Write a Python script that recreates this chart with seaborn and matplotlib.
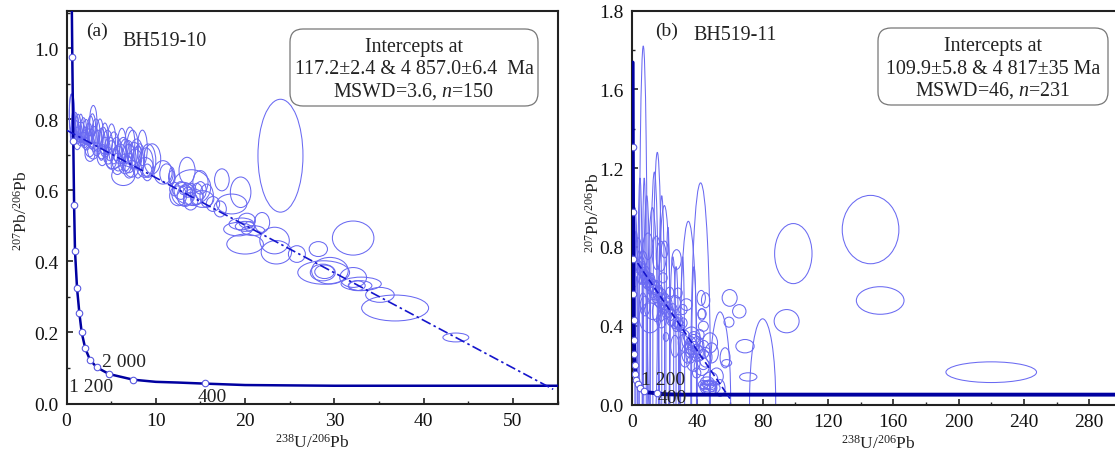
import seaborn as sns
import matplotlib.pyplot as plt
from matplotlib.patches import Ellipse, FancyBboxPatch

# concordia curve, shared by both panels
conc_x = [0.4, 0.5, 0.6, 0.65, 0.76, 0.85, 0.95, 1.18, 1.44, 1.7, 2.1, 2.63, 3.38, 4.76, 7.48, 10, 12.5, 15.5, 20, 30, 296]
conc_y = [1.736, 1.305, 1.105, 0.975, 0.74, 0.56, 0.43, 0.325, 0.255, 0.2, 0.155, 0.123, 0.102, 0.083, 0.067, 0.061, 0.059, 0.056, 0.052, 0.05, 0.05]
age_x = [0.5, 0.65, 0.76, 0.85, 0.95, 1.18, 1.44, 1.7, 2.1, 2.63, 3.38, 4.76, 7.48, 15.5]
age_y = [1.305, 0.975, 0.74, 0.56, 0.43, 0.325, 0.255, 0.2, 0.155, 0.123, 0.102, 0.083, 0.067, 0.057]

# discordia ends
disc_a_x = [0, 54.5]
disc_a_y = [0.77, 0.04]
disc_b_x = [0, 60]
disc_b_y = [0.76, 0.03]

# error ellipses panel a: centre x, centre y, width, height
a_x = [23.96, 32.1, 28.2, 36.8, 43.6, 13.5, 17.4, 19.5, 14.0, 15.0, 13.1, 14.2, 12.5, 15.2, 15.7, 17.2, 16.4, 18.5, 13.5, 13.1, 13.6, 12.1, 11.8,
       20.2, 21.9, 19.6, 20.0, 20.5, 19.2, 20.9, 20.0, 23.3, 23.5, 25.8, 28.8, 29.5, 28.9, 28.7, 32.1, 32.9, 33.0, 32.5, 35.1,
       0.54, 0.61, 3.0, 2.9, 1.06, 1.43, 1.73, 1.21, 2.07, 2.44, 1.88, 2.81, 3.3, 3.75, 4.12, 3.0, 5.05, 4.87, 4.31, 5.6, 6.36, 7.1, 6.0, 6.9,
       7.85, 7.67, 8.2, 5.24, 6.36, 7.3, 9.15, 9.6, 8.8, 6.55, 9.05, 11.2, 10.8, 11.8, 0.69, 0.95, 1.58, 2.25, 2.63, 3.37, 3.93, 4.68,
       0.8, 1.0, 1.3, 1.6, 1.9, 2.2, 2.5, 2.7, 3.1, 3.5, 3.9, 4.3, 4.6, 5.0, 5.3, 5.8, 6.2, 6.6, 7.0, 7.4, 7.6, 8.0, 8.5, 8.9, 7.0, 5.7, 1.2, 2.0, 2.6, 4.0,
       12.8, 13.3, 14.6, 13.9, 15.0, 14.0]
a_y = [0.698, 0.466, 0.435, 0.269, 0.186, 0.656, 0.63, 0.595, 0.609, 0.623, 0.59, 0.581, 0.585, 0.576, 0.585, 0.548, 0.562, 0.562, 0.604, 0.6, 0.595, 0.604, 0.642,
       0.515, 0.51, 0.506, 0.499, 0.499, 0.491, 0.487, 0.449, 0.459, 0.426, 0.421, 0.369, 0.374, 0.371, 0.369, 0.355, 0.332, 0.337, 0.332, 0.306,
       0.82, 0.811, 0.797, 0.783, 0.769, 0.764, 0.764, 0.755, 0.755, 0.75, 0.745, 0.745, 0.764, 0.759, 0.741, 0.712, 0.745, 0.717, 0.722, 0.717, 0.712, 0.736, 0.703, 0.708,
       0.712, 0.689, 0.694, 0.689, 0.642, 0.661, 0.684, 0.689, 0.665, 0.675, 0.651, 0.647, 0.651, 0.637, 0.759, 0.75, 0.74, 0.731, 0.703, 0.717, 0.708, 0.698,
       0.78, 0.78, 0.78, 0.775, 0.77, 0.765, 0.76, 0.77, 0.745, 0.74, 0.73, 0.75, 0.735, 0.70, 0.72, 0.69, 0.725, 0.70, 0.69, 0.72, 0.70, 0.68, 0.72, 0.68, 0.67, 0.675, 0.74, 0.745, 0.725, 0.70,
       0.60, 0.585, 0.59, 0.57, 0.60, 0.60]
a_w = [5.04, 4.65, 2.05, 7.5, 2.9, 1.8, 1.64, 2.3, 4.3, 1.7, 2.6, 2.2, 1.9, 2.6, 1.5, 1.4, 1.5, 3.4, 1.5, 0.9, 1.1, 1.1, 0.6,
       1.9, 1.7, 2.8, 2.2, 1.1, 3.2, 2.6, 4.1, 3.3, 3.4, 1.9, 5.8, 4.1, 2.2, 2.8, 3.0, 2.6, 4.5, 1.9, 3.2,
       0.45, 0.6, 0.8, 0.7, 0.67, 0.6, 0.67, 0.8, 0.67, 0.75, 0.97, 0.82, 0.9, 0.75, 0.9, 1.27, 0.9, 1.27, 1.1, 1.1, 1.34, 1.1, 1.5, 1.27,
       1.27, 1.5, 1.1, 1.87, 2.6, 1.5, 1.7, 1.9, 1.87, 1.5, 1.1, 1.5, 2.05, 0.75, 0.52, 0.6, 0.67, 0.82, 1.12, 0.9, 0.97, 1.12,
       0.5, 0.6, 0.6, 0.6, 0.7, 0.7, 0.8, 0.7, 1.0, 1.1, 0.9, 0.8, 1.1, 1.4, 1.2, 1.5, 1.0, 1.4, 1.6, 1.3, 1.6, 1.3, 1.1, 1.6, 1.4, 1.4, 0.9, 0.9, 1.2, 1.2,
       1.5, 1.8, 1.4, 1.6, 1.3, 1.0]
a_h = [0.318, 0.096, 0.042, 0.073, 0.025, 0.075, 0.062, 0.086, 0.099, 0.066, 0.066, 0.047, 0.056, 0.047, 0.066, 0.045, 0.042, 0.056, 0.028, 0.023, 0.028, 0.038, 0.047,
       0.042, 0.056, 0.033, 0.028, 0.028, 0.038, 0.028, 0.056, 0.075, 0.066, 0.047, 0.066, 0.075, 0.038, 0.047, 0.056, 0.028, 0.038, 0.028, 0.042,
       0.103, 0.122, 0.085, 0.066, 0.056, 0.056, 0.056, 0.047, 0.047, 0.047, 0.038, 0.056, 0.075, 0.085, 0.075, 0.047, 0.085, 0.066, 0.056, 0.066, 0.075, 0.085, 0.056, 0.066,
       0.066, 0.056, 0.075, 0.056, 0.056, 0.047, 0.094, 0.085, 0.056, 0.056, 0.047, 0.056, 0.066, 0.038, 0.047, 0.038, 0.028, 0.033, 0.042, 0.038, 0.038, 0.047,
       0.09, 0.08, 0.07, 0.08, 0.07, 0.07, 0.06, 0.08, 0.07, 0.06, 0.09, 0.08, 0.07, 0.08, 0.09, 0.07, 0.10, 0.09, 0.08, 0.10, 0.07, 0.09, 0.10, 0.08, 0.07, 0.06, 0.05, 0.05, 0.06, 0.06,
       0.05, 0.06, 0.06, 0.05, 0.05, 0.04]

# error ellipses panel b
b_x = [146.1, 152, 220, 98.8, 94.7, 69.2, 71.2, 27.3, 80, 53.9, 42, 34.5, 6.9, 15.5, 13.7, 4.9, 1.2, 9, 18.2, 19.8, 12.5, 25, 3,
       9.8, 17.9, 14.9, 20, 3.7, 6.7, 3.7, 5.7, 7.75, 9.8, 11.8, 8.8, 10.8, 13.9, 6.7, 15.9, 18, 19, 28.2, 23.1, 20, 26.1, 33.3, 31.2, 22, 12.9, 6.7, 11, 18, 24.1, 28.2, 31.2, 25.1, 18,
       42.4, 45.1, 42.9, 59.8, 59.4, 65.7,
       20.8, 26.3, 31.4, 36.5, 37.6, 41.6, 43.7, 42.7, 35.5, 39.6, 43.7, 47.8, 48.8, 37.6, 32.5, 39.6, 57, 58, 46.7, 46.7, 47.8, 43.7, 47.8, 53.9, 42.7, 51.8,
       1.5, 2.5, 4.5, 5, 6, 7, 8, 9, 10, 11, 12, 12.5, 13, 14.5, 15, 16.5, 17, 18.5, 19.5, 21, 22, 23.5, 24.5, 26, 27, 28.5, 30, 29, 30.5, 8, 15,
       36, 38, 40, 41, 44, 45, 36, 34, 38, 33, 46, 48, 45, 49, 48,
       7.5, 22, 27, 31, 38]
b_y = [0.888, 0.528, 0.164, 0.766, 0.423, 0.296, 0.14, 0.736, 0.02, 0.03, 0.1, 0.05, 0.2, 0.2, 0.2, 0.2, 0.3, 0.3, 0.3, 0.4, 0.4, 0.15, 0.1,
       0.803, 0.752, 0.77, 0.787, 0.787, 0.736, 0.702, 0.685, 0.651, 0.634, 0.609, 0.617, 0.643, 0.592, 0.634, 0.566, 0.55, 0.643, 0.566, 0.566, 0.524, 0.516, 0.507, 0.482, 0.482, 0.482, 0.524, 0.44, 0.431, 0.44, 0.423, 0.414, 0.482, 0.465,
       0.541, 0.529, 0.46, 0.541, 0.418, 0.473,
       0.343, 0.296, 0.313, 0.347, 0.313, 0.355, 0.397, 0.457, 0.279, 0.262, 0.228, 0.313, 0.262, 0.211, 0.228, 0.16, 0.237, 0.211, 0.093, 0.101, 0.084, 0.101, 0.076, 0.084, 0.194, 0.143,
       0.85, 0.78, 0.72, 0.66, 0.70, 0.68, 0.64, 0.66, 0.62, 0.60, 0.63, 0.58, 0.60, 0.56, 0.59, 0.53, 0.57, 0.52, 0.50, 0.47, 0.51, 0.46, 0.44, 0.42, 0.40, 0.41, 0.40, 0.39, 0.385, 0.50, 0.47,
       0.30, 0.28, 0.30, 0.26, 0.28, 0.24, 0.25, 0.26, 0.33, 0.33, 0.12, 0.10, 0.09, 0.085, 0.13,
       0.2, 0.2, 0.15, 0.1, 0.1]
b_w = [34.7, 29.2, 55.5, 22.9, 15.3, 11.2, 10.6, 5.7, 16, 13, 12, 11, 5, 5.5, 5, 3, 2.5, 4, 3.5, 7, 6, 4, 2.5,
       6.1, 6.1, 5.1, 4.1, 4.1, 5.1, 4.1, 5.1, 5.1, 5.1, 6.1, 4.1, 4.1, 6.1, 4.1, 6.1, 6.1, 5.1, 5.1, 5.1, 6.1, 7.1, 7.1, 5.1, 6.1, 10.2, 4.1, 13.3, 6.1, 6.1, 6.1, 5.1, 5.1, 4.1,
       5.1, 5.1, 5.1, 9.2, 6.1, 8.2,
       3.3, 5.1, 6.1, 10.2, 8.2, 5.1, 6.1, 4.5, 6.1, 8.2, 8.2, 9.2, 8.2, 8.2, 6.1, 5.1, 6.1, 6.1, 10.2, 7.1, 12.2, 6.1, 8.2, 6.1, 9.2, 8.2,
       2.5, 2, 3, 3, 3.5, 3.5, 4, 3.5, 4, 4, 4, 4.5, 4.5, 5, 4, 5, 4, 5, 5, 5, 5, 5, 5, 5, 4.5, 5, 4, 3, 3.5, 6, 5,
       7, 7, 8, 7, 7, 8, 6, 7, 8, 5, 8, 8, 6, 6, 9,
       2.5, 2.5, 3, 2.5, 3]
b_h = [0.347, 0.14, 0.105, 0.305, 0.118, 0.068, 0.042, 0.10, 0.83, 0.88, 2.05, 1.76, 3.24, 2.16, 1.96, 1.9, 1.48, 1.52, 1.52, 1.22, 1.2, 1.2, 1.1,
       0.135, 0.152, 0.169, 0.085, 0.118, 0.085, 0.068, 0.068, 0.068, 0.076, 0.068, 0.059, 0.051, 0.068, 0.051, 0.068, 0.076, 0.051, 0.051, 0.059, 0.085, 0.076, 0.059, 0.051, 0.076, 0.102, 0.085, 0.152, 0.085, 0.085, 0.068, 0.051, 0.059, 0.085,
       0.076, 0.076, 0.051, 0.085, 0.051, 0.068,
       0.044, 0.11, 0.085, 0.093, 0.085, 0.051, 0.051, 0.059, 0.085, 0.085, 0.102, 0.102, 0.102, 0.085, 0.076, 0.051, 0.102, 0.034, 0.059, 0.042, 0.068, 0.042, 0.051, 0.085, 0.093, 0.085,
       0.3, 0.2, 0.12, 0.1, 0.1, 0.09, 0.09, 0.08, 0.08, 0.08, 0.07, 0.08, 0.07, 0.09, 0.08, 0.08, 0.07, 0.08, 0.08, 0.07, 0.08, 0.07, 0.08, 0.07, 0.06, 0.06, 0.05, 0.04, 0.04, 0.1, 0.1,
       0.09, 0.08, 0.09, 0.08, 0.09, 0.1, 0.08, 0.1, 0.08, 0.09, 0.04, 0.05, 0.03, 0.04, 0.07,
       1.9, 1.4, 1.1, 1.3, 1.2]

a_xticks = [0, 10, 20, 30, 40, 50]
a_yticks = [0, 0.2, 0.4, 0.6, 0.8, 1.0]
a_ylabels = ['0.0', '0.2', '0.4', '0.6', '0.8', '1.0']
b_xticks = [0, 40, 80, 120, 160, 200, 240, 280]
b_yticks = [0, 0.4, 0.8, 1.2, 1.6, 2.0]
b_ylabels = ['0.0', '0.4', '0.8', '1.2', '1.6', '1.8']

sns.set_style('ticks')
plt.rcParams['font.family'] = ['Liberation Serif', 'DejaVu Sans']
plt.rcParams['mathtext.fontset'] = 'custom'
plt.rcParams['mathtext.rm'] = 'Liberation Serif'
plt.rcParams['mathtext.it'] = 'Liberation Serif:italic'
plt.rcParams['mathtext.default'] = 'regular'

W, H = 1115, 452
ELL = '#6a6af2'
DARK = '#0000a0'
TXT = '#222222'

fig = plt.figure(figsize=(W / 100, H / 100), dpi=100)
ax1 = fig.add_axes([66.5 / W, 1 - 404.5 / H, (558 - 66.5) / W, (404.5 - 12) / H])
ax2 = fig.add_axes([632 / W, 1 - 405.5 / H, (1115 - 632) / W, (405.5 - 11.5) / H])


def draw_panel(ax, ex, ey, ew, eh, dx, dy, line_w, dash):
    for x, y, w, h in zip(ex, ey, ew, eh):
        ax.add_patch(Ellipse((x, y), w, h, fill=False, ec=ELL, lw=0.75, zorder=2))
    sns.lineplot(x=conc_x, y=conc_y, sort=False, estimator=None, color=DARK, lw=line_w, ax=ax, zorder=3)
    sns.lineplot(x=dx, y=dy, sort=False, estimator=None, color='#1515cc', lw=1.2, ax=ax, zorder=3, linestyle=dash)
    sns.scatterplot(x=age_x, y=age_y, marker='o', s=22, color='white', edgecolor='#5a5ae0', linewidth=0.8, ax=ax, zorder=4)


def style_axes(ax, xticks, yticks, ylabels, xminor, yminor):
    ax.set_xticks(xticks)
    ax.set_yticks(yticks)
    ax.set_yticklabels(ylabels)
    ax.set_xticks(xminor, minor=True)
    ax.set_yticks(yminor, minor=True)
    ax.tick_params(which='major', direction='in', length=4, width=1.1, labelsize=14, colors='#111111', pad=6)
    ax.tick_params(which='minor', direction='in', length=2, width=1.0)
    for s in ax.spines.values():
        s.set_linewidth(1.5)
        s.set_color('#222222')


draw_panel(ax1, a_x, a_y, a_w, a_h, disc_a_x, disc_a_y, 1.8, (0, (6, 2, 1.5, 2)))
draw_panel(ax2, b_x, b_y, b_w, b_h, disc_b_x, disc_b_y, 2.8, (0, (4, 2)))

ax1.set_xlim(0, 55.04)
ax1.set_ylim(0, 1.1056)
ax2.set_xlim(0, 295.8)
ax2.set_ylim(0, 2.0)
style_axes(ax1, a_xticks, a_yticks, a_ylabels, [5, 15, 25, 35, 45, 55], [0.1, 0.3, 0.5, 0.7, 0.9, 1.1])
style_axes(ax2, b_xticks, b_yticks, b_ylabels, [20, 60, 100, 140, 180, 220, 260], [0.2, 0.6, 1.0, 1.4, 1.8])
ax2.spines['right'].set_visible(False)

for ax in (ax1, ax2):
    ax.set_xlabel('$^{238}$U/$^{206}$Pb', fontsize=12.5, color=TXT, labelpad=3)
    ax.set_ylabel('$^{207}$Pb/$^{206}$Pb', fontsize=12.5, color=TXT)
ax1.yaxis.set_label_coords(-0.072, 0.493)
ax2.yaxis.set_label_coords(-0.06, 0.49)
ax2.xaxis.label.set_x(0.509)


def ftext(px, py, s, size=14, **kw):
    fig.text(px / W, 1 - py / H, s, fontsize=size, color=TXT, ha='center', va='center', **kw)


ftext(97, 31, '(a)')
ftext(165, 41, 'BH519-10', 14.4)
ftext(667, 31, '(b)')
ftext(735, 36, 'BH519-11', 14.4)
ax1.text(6.47, 0.117, '2 000', fontsize=14, color=TXT, ha='center', va='center')
ax1.text(2.75, 0.049, '1 200', fontsize=14, color=TXT, ha='center', va='center')
ax1.text(16.3, 0.021, '400', fontsize=14, color=TXT, ha='center', va='center')
ax2.text(19.3, 0.127, '1 200', fontsize=14, color=TXT, ha='center', va='center')
ax2.text(24.5, 0.036, '400', fontsize=14, color=TXT, ha='center', va='center')

# intercept boxes
for x0, x1, y0, y1, cx, lines in [
    (290, 538, 30, 107, 414, ['Intercepts at', '117.2±2.4 & 4 857.0±6.4  Ma', 'MSWD=3.6, $\\mathit{n}$=150']),
    (878, 1108, 29, 106, 993, ['Intercepts at', '109.9±5.8 & 4 817±35 Ma', 'MSWD=46, $\\mathit{n}$=231']),
]:
    fig.add_artist(FancyBboxPatch((x0 / 100, (H - y1) / 100), (x1 - x0) / 100, (y1 - y0) / 100,
                                  boxstyle='round,pad=0,rounding_size=0.13', fc='white', ec='#777777', lw=0.9,
                                  transform=fig.dpi_scale_trans))
    for i, line in enumerate(lines):
        ftext(cx, y0 + 18 + i * 22, line, 14.4)

fig.savefig('out.png', dpi=100)
